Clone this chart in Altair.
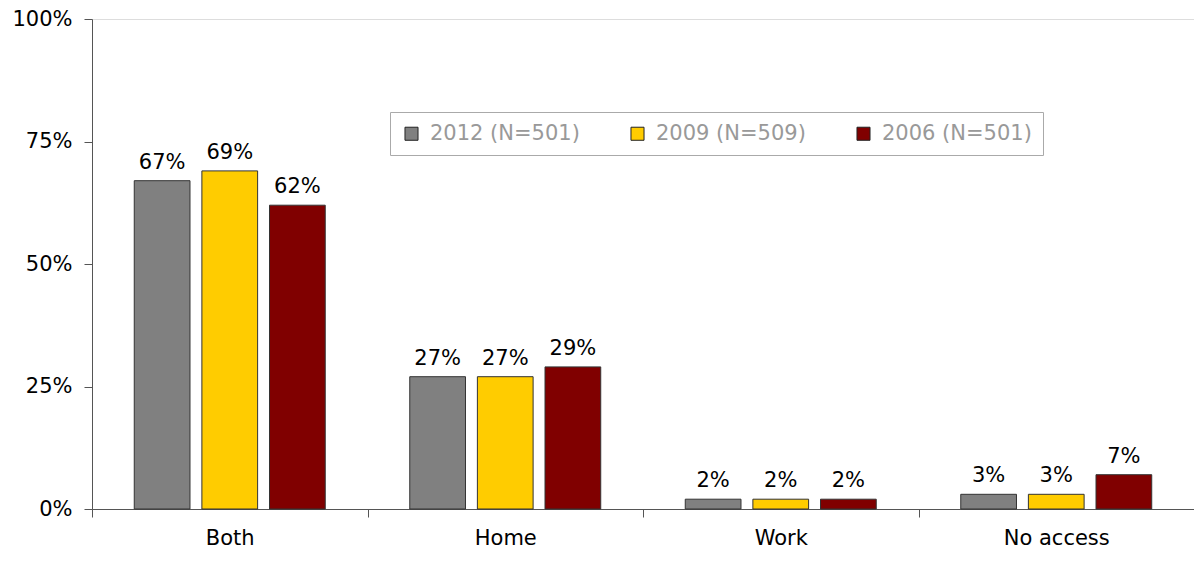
import altair as alt
import pandas as pd

categories = ["Both", "Home", "Work", "No access"]
series = ["2012 (N=501)", "2009 (N=509)", "2006 (N=501)"]
v2012 = [67, 27, 2, 3]
v2009 = [69, 27, 2, 3]
v2006 = [62, 29, 2, 7]
colors = ["#808080", "#FFCC00", "#800000"]

rows = []
for s, vals in zip(series, [v2012, v2009, v2006]):
    for c, v in zip(categories, vals):
        rows.append({"cat": c, "series": s, "value": v / 100, "label": f"{v}%"})
df = pd.DataFrame(rows)

FONT = "DejaVu Sans"
FS = 21

x = alt.X("cat:N", sort=categories, title=None,
          scale=alt.Scale(paddingInner=0, paddingOuter=0),
          axis=alt.Axis(labelAngle=0, labelFontSize=FS, labelColor="#000000", labelFont=FONT,
                        tickBand="extent", tickSize=8, tickColor="#555555", domainColor="#555555",
                        labelPadding=10, grid=False))
xoff = alt.XOffset("series:N", sort=series,
                   scale=alt.Scale(paddingInner=0.176, paddingOuter=0.625))
y = alt.Y("value:Q", title=None,
          scale=alt.Scale(domain=[0, 1], nice=False),
          axis=alt.Axis(values=[0, 0.25, 0.5, 0.75, 1], format=".0%", labelFontSize=FS,
                        labelColor="#000000", labelFont=FONT, tickSize=8, tickColor="#555555",
                        domainColor="#555555", labelPadding=12, grid=False))

bars = alt.Chart(df).mark_bar(stroke="#333333", strokeWidth=1).encode(
    x=x, xOffset=xoff, y=y,
    color=alt.Color("series:N", sort=series, title=None,
                    scale=alt.Scale(domain=series, range=colors),
                    legend=alt.Legend(orient="none", legendX=298, legendY=93, direction="horizontal",
                                      columns=3, columnPadding=47, symbolType="square",
                                      symbolSize=170, symbolStrokeColor="#222222", symbolStrokeWidth=1,
                                      labelFontSize=FS, labelColor="#999999", labelFont=FONT,
                                      labelOffset=8, padding=11, strokeColor="#aaaaaa",
                                      fillColor="#ffffff")),
)

text = alt.Chart(df).mark_text(baseline="bottom", dy=-8, fontSize=FS, font=FONT, color="#000000").encode(
    x=alt.X("cat:N", sort=categories), xOffset=alt.XOffset("series:N", sort=series), y="value:Q",
    text="label:N",
)

chart = alt.layer(bars, text).properties(
    width=1102, height=490,
    autosize=alt.AutoSizeParams(type="none"),
    padding={"left": 84, "top": 11, "right": 0, "bottom": 44},
).configure_view(stroke=None).configure(background="#ffffff")

chart.save("out.html", embed_options={"renderer": "svg", "actions": False})
